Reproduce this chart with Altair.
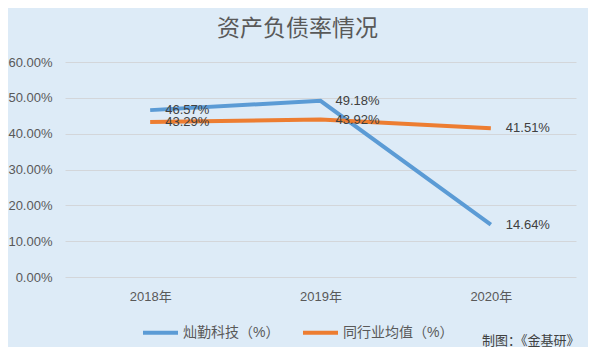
import altair as alt
import pandas as pd

years = ["2018年", "2019年", "2020年"]
canqin = [46.57, 49.18, 14.64]
industry = [43.29, 43.92, 41.51]
series_names = ["灿勤科技（%）", "同行业均值（%）"]
colors = ["#5B9BD5", "#ED7D31"]
y_ticks = [0, 0.1, 0.2, 0.3, 0.4, 0.5, 0.6]

rows = []
for y, v in zip(years, canqin):
    rows.append({"year": y, "value": v / 100, "series": series_names[0]})
for y, v in zip(years, industry):
    rows.append({"year": y, "value": v / 100, "series": series_names[1]})
df = pd.DataFrame(rows)

FONT = "Liberation Sans, Noto Sans CJK SC"

x_axis = alt.Axis(labelAngle=0, labelFontSize=13, labelColor="#595959",
                  domain=False, ticks=False, labelPadding=13, grid=False,
                  labelFont=FONT)
y_axis = alt.Axis(format=".2%", values=y_ticks, labelOverlap=False,
                  labelFontSize=13, labelColor="#595959", domain=False,
                  ticks=False, labelPadding=13, gridColor="#D3D6DA",
                  gridWidth=1, labelFont=FONT)
x = alt.X("year:N", sort=years, title=None,
          scale=alt.Scale(paddingInner=0, paddingOuter=0.5), axis=x_axis)
y = alt.Y("value:Q", title=None, scale=alt.Scale(domain=[0, 0.6]), axis=y_axis)
color = alt.Color("series:N", sort=series_names,
                  scale=alt.Scale(domain=series_names, range=colors),
                  legend=alt.Legend(orient="none", legendX=76, legendY=251,
                                    direction="horizontal", title=None,
                                    symbolType="stroke", symbolStrokeWidth=4,
                                    symbolSize=1225, labelFontSize=14,
                                    labelColor="#595959", labelOffset=3,
                                    columnPadding=15, labelFont=FONT))

lines = alt.Chart(df).mark_line(strokeWidth=4).encode(x=x, y=y, color=color)
labels = alt.Chart(df).mark_text(align="left", baseline="middle", dx=15,
                                 fontSize=13, color="#404040", font=FONT).encode(
    x=x,
    y=y,
    text=alt.Text("value:Q", format=".2%"),
)
source = alt.Chart(pd.DataFrame({"t": ["制图：《金基研》"]})).mark_text(
    align="left", baseline="middle", fontSize=13, color="#404040",
    font="Noto Sans CJK SC"
).encode(x=alt.value(417), y=alt.value(279), text="t:N")

chart = alt.layer(lines, labels, source).properties(
    width=511, height=215,
    title=alt.TitleParams("资产负债率情况", fontSize=23, color="#595959",
                          font="Noto Sans CJK SC", fontWeight="normal",
                          anchor="middle", offset=15, dx=-23),
    padding={"left": 57, "top": 54, "right": 12, "bottom": 70},
    autosize=alt.AutoSizeParams(type="none"),
).configure(background="#DDEBF7").configure_view(stroke=None)

chart.save("out.html", embed_options={"renderer": "svg", "actions": False})
